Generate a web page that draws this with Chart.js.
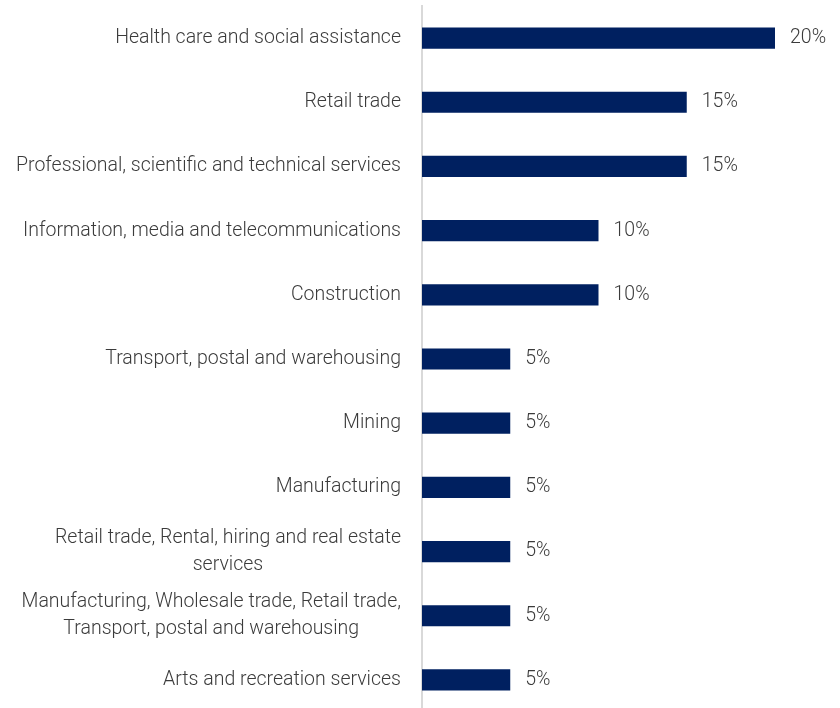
<!DOCTYPE html>
<html lang="en">
<head>
    <meta charset="UTF-8">
    <title>Industry share</title>
    <script src="https://cdn.jsdelivr.net/npm/chart.js"></script>
    <style>
        html, body {
            margin: 0;
            padding: 0;
            background: #ffffff;
            overflow: hidden;
        }
        #chartBox {
            width: 840px;
            height: 712px;
        }
    </style>
</head>
<body>
    <div id="chartBox">
        <canvas id="industryChart"></canvas>
    </div>
    <script>
        // Industry categories (wrapped ones split into lines)
        const industries = [
            'Health care and social assistance',
            'Retail trade',
            'Professional, scientific and technical services',
            'Information, media and telecommunications',
            'Construction',
            'Transport, postal and warehousing',
            'Mining',
            'Manufacturing',
            ['Retail trade, Rental, hiring and real estate', 'services'],
            ['Manufacturing, Wholesale trade, Retail trade,', 'Transport, postal and warehousing'],
            'Arts and recreation services'
        ];
        const shares = [20, 15, 15, 10, 10, 5, 5, 5, 5, 5, 5];

        const textColor = '#3b3b3b';
        const fontCss = '300 19.5px Roboto';
        const lineGap = 27.5;
        const labelPad = 21;

        // category names: block right-aligned to the axis, wrapped lines centred in the block
        const categoryLabels = {
            id: 'categoryLabels',
            afterDraw(chart) {
                const ctx = chart.ctx;
                const yScale = chart.scales.y;
                const right = yScale.right - labelPad;
                ctx.save();
                ctx.fillStyle = textColor;
                ctx.font = fontCss;
                ctx.textAlign = 'center';
                ctx.textBaseline = 'middle';
                industries.forEach((label, i) => {
                    const lines = Array.isArray(label) ? label : [label];
                    const blockW = Math.max(...lines.map(l => ctx.measureText(l).width));
                    const cx = right - blockW / 2;
                    const yMid = yScale.getPixelForTick(i);
                    const y0 = yMid - (lines.length - 1) * lineGap / 2;
                    lines.forEach((line, k) => {
                        ctx.fillText(line, cx, y0 + k * lineGap);
                    });
                });
                ctx.restore();
            }
        };

        // writes the percentage just past the end of each bar
        const valueLabels = {
            id: 'valueLabels',
            afterDatasetsDraw(chart) {
                const ctx = chart.ctx;
                const meta = chart.getDatasetMeta(0);
                ctx.save();
                ctx.fillStyle = textColor;
                ctx.font = fontCss;
                ctx.textAlign = 'left';
                ctx.textBaseline = 'middle';
                meta.data.forEach((bar, i) => {
                    ctx.fillText(shares[i] + '%', bar.x + 15, bar.y);
                });
                ctx.restore();
            }
        };

        const ctx = document.getElementById('industryChart').getContext('2d');
        new Chart(ctx, {
            type: 'bar',
            data: {
                labels: industries,
                datasets: [{
                    data: shares,
                    backgroundColor: '#002060',
                    barPercentage: 0.66,
                    categoryPercentage: 0.5
                }]
            },
            options: {
                indexAxis: 'y',
                responsive: true,
                maintainAspectRatio: false,
                animation: false,
                layout: {
                    padding: { top: 6, right: 65, bottom: 0, left: 0 }
                },
                scales: {
                    x: {
                        display: false,
                        min: 0,
                        max: 20
                    },
                    y: {
                        afterFit(scale) {
                            // fixed label column, no extra room for tall labels
                            scale.width = 422;
                            scale.paddingTop = 0;
                            scale.paddingBottom = 0;
                        },
                        grid: { display: false, drawTicks: false },
                        border: { display: true, color: '#d9d9d9', width: 2 },
                        ticks: { display: false, autoSkip: false }
                    }
                },
                plugins: {
                    legend: { display: false },
                    tooltip: { enabled: false }
                }
            },
            plugins: [valueLabels, categoryLabels]
        });
    </script>
</body>
</html>
